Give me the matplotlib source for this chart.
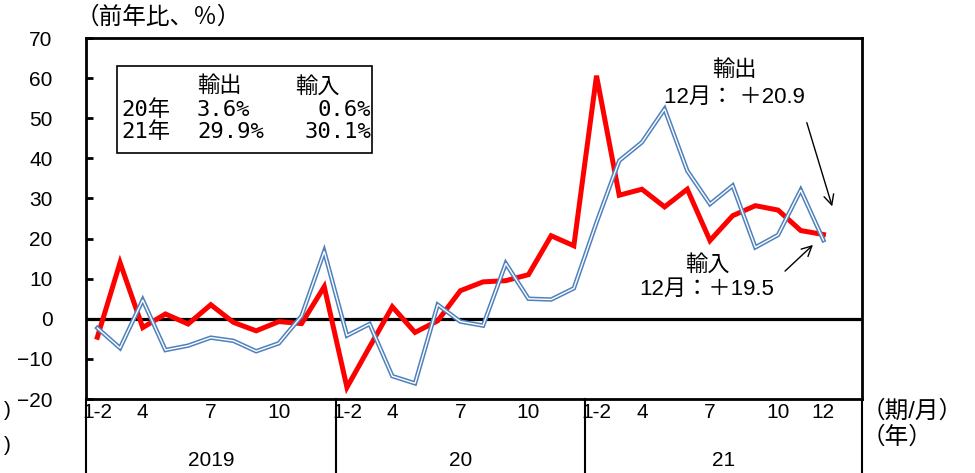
import matplotlib
matplotlib.use("Agg")
import matplotlib.pyplot as plt
from matplotlib.patches import Rectangle
from matplotlib.lines import Line2D
import matplotlib.transforms as mtransforms

# monthly yoy % (Jan-Feb combined), 2019-2021
years = ["2019", "20", "21"]
months = ["1-2", "3", "4", "5", "6", "7", "8", "9", "10", "11", "12"]
exports = [-2.3, -7.3, 4.7, -7.8, -6.7, -4.7, -5.5, -8.1, -6.1, 0.7, 16.8,
           -4.2, -1.3, -14.3, -16.1, 3.5, -0.7, -1.7, 13.8, 5.0, 4.8, 7.6,
           24.0, 39.4, 44.0, 52.3, 36.9, 28.6, 33.2, 17.8, 20.9, 32.1, 19.6]
imports = [-4.6, 14.0, -2.2, 1.2, -1.3, 3.5, -0.9, -3.0, -0.7, -1.2, 8.0,
           -17.1, -7.0, 3.0, -3.4, -0.5, 7.0, 9.2, 9.5, 11.0, 20.7, 18.2,
           60.6, 30.8, 32.3, 27.9, 32.3, 19.5, 25.7, 28.2, 27.1, 22.0, 21.0]
shown_months = ["1-2", "4", "7", "10"]
summary_rows = ["20年", "21年"]
summary_exp = ["3.6%", "29.9%"]
summary_imp = ["0.6%", "30.1%"]

W, H = 975, 473
SANS = ["Liberation Sans", "Noto Sans CJK JP"]
MONO = ["DejaVu Sans Mono", "Noto Sans CJK JP"]
plt.rcParams["font.family"] = SANS


def px(x, y):
    return x / W, 1 - y / H


fig = plt.figure(figsize=(W / 100, H / 100), dpi=100)
ax = fig.add_axes([86 / W, 1 - 399 / H, 776 / W, 361 / H])

x = list(range(len(exports)))
ax.axhline(0, color="black", lw=2.3, zorder=1)
ax.plot(x, imports, color="#ff0000", lw=3.6, zorder=2, solid_joinstyle="miter")
ax.plot(x, exports, color="#4f81bd", lw=3.2, zorder=3, solid_joinstyle="miter")
ax.plot(x, exports, color="white", lw=1.0, zorder=4, solid_joinstyle="miter")

ax.set_xlim(-0.5, 33.7)
ax.set_ylim(-20, 70)
ax.set_yticks(range(-20, 71, 10))
ax.tick_params(axis="y", direction="in", length=5, width=2, labelsize=15, pad=24)

ticks, labels = [], []
for yi in range(len(years)):
    for mi, m in enumerate(months):
        if m in shown_months or (yi == len(years) - 1 and m == "12"):
            ticks.append(yi * len(months) + mi)
            labels.append(m)
ax.set_xticks(ticks)
ax.set_xticklabels(labels)
ax.tick_params(axis="x", length=0, labelsize=15, pad=3)
for s in ax.spines.values():
    s.set_linewidth(2)

# year separators and labels below the axis
trans = mtransforms.blended_transform_factory(ax.transData, ax.transAxes)
n = len(months)
bounds = [i * n - 0.5 for i in range(len(years))] + [33.7]
for b in bounds:
    ax.add_line(Line2D([b, b], [0, -0.21], transform=trans, color="black",
                       lw=1.5, clip_on=False))
for i, yr in enumerate(years):
    ax.text((bounds[i] + bounds[i + 1]) / 2, -0.17, yr, transform=trans,
            ha="center", va="center", fontsize=15)

fig.text(*px(862, 411), "（期/月）", ha="left", va="center", fontsize=17)
fig.text(*px(862, 437), "（年）", ha="left", va="center", fontsize=17)
fig.text(*px(4, 411), ")", ha="left", va="center", fontsize=15)
fig.text(*px(4, 445), ")", ha="left", va="center", fontsize=15)
fig.text(*px(76, 18), "（前年比、％）", ha="left", va="center", fontsize=17)

# summary box
x0, y0 = px(117, 153)
x1, y1 = px(372, 66)
fig.add_artist(Rectangle((x0, y0), x1 - x0, y1 - y0, transform=fig.transFigure,
                         fill=False, ec="black", lw=1.2))
fig.text(*px(197, 86), "輸出", ha="left", va="center", fontsize=16, family=MONO)
fig.text(*px(295, 86), "輸入", ha="left", va="center", fontsize=16, family=MONO)
for r, (lab, e, im) in enumerate(zip(summary_rows, summary_exp, summary_imp)):
    yy = 110 + r * 22
    fig.text(*px(121, yy), lab, ha="left", va="center", fontsize=16, family=MONO)
    fig.text(*px(197, yy), e, ha="left", va="center", fontsize=16, family=MONO)
    fig.text(*px(371, yy), im, ha="right", va="center", fontsize=16, family=MONO)

# callouts for December values
fig.text(*px(734, 70), "輸出", ha="center", va="center", fontsize=16)
fig.text(*px(734, 97), "12月： ＋20.9", ha="center", va="center", fontsize=16)
fig.text(*px(707, 265), "輸入", ha="center", va="center", fontsize=16)
fig.text(*px(707, 289), "12月：＋19.5", ha="center", va="center", fontsize=16)
ax.annotate("", xy=px(833, 209), xytext=px(806, 120), xycoords="figure fraction",
            textcoords="figure fraction",
            arrowprops=dict(arrowstyle="->", color="black", lw=1, mutation_scale=18))
ax.annotate("", xy=px(815, 243), xytext=px(783, 273), xycoords="figure fraction",
            textcoords="figure fraction",
            arrowprops=dict(arrowstyle="->", color="black", lw=1, mutation_scale=18))

fig.savefig("out.png", dpi=100)
